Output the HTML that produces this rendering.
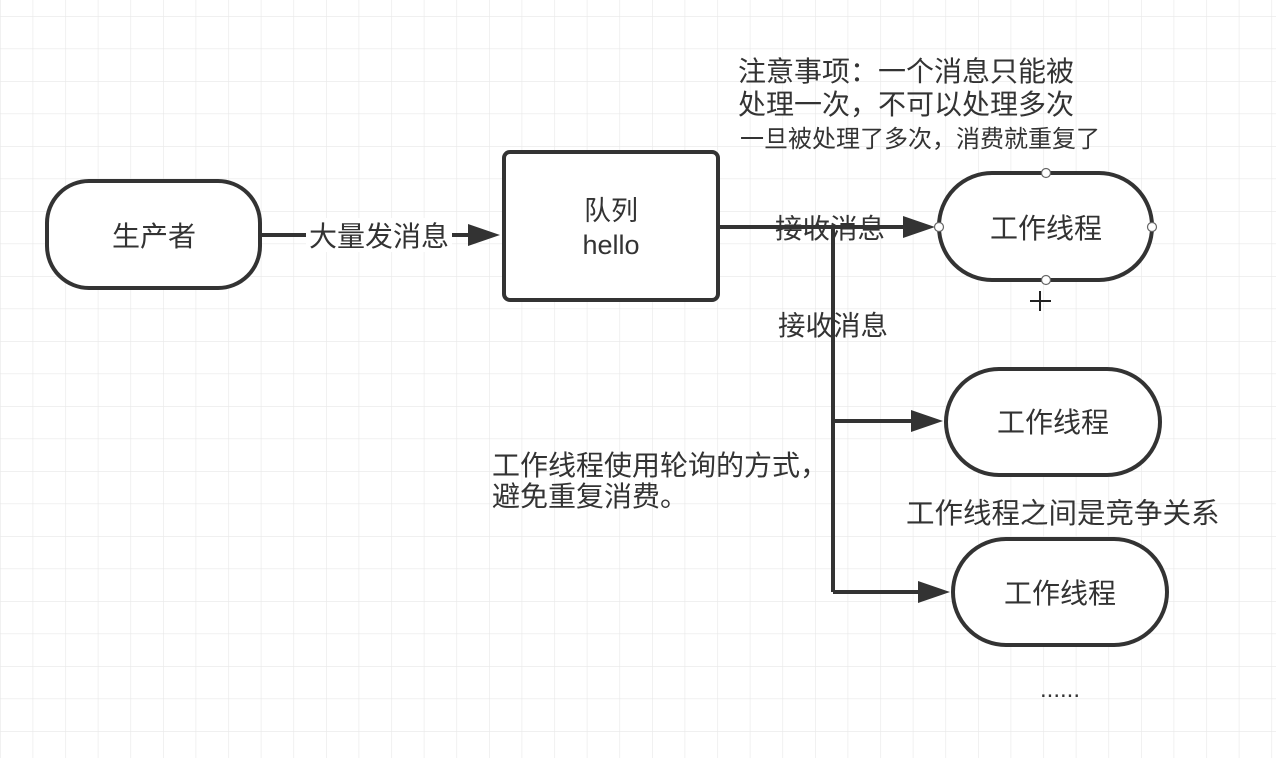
<!DOCTYPE html>
<html><head><meta charset="utf-8"><style>
body{margin:0;width:1276px;height:758px;overflow:hidden;background:#fff;}
svg text{font-family:"Liberation Sans","Noto Sans CJK SC",sans-serif;fill:#333;}
</style></head><body>
<svg width="1276" height="758" xmlns="http://www.w3.org/2000/svg">
<defs>
<pattern id="g" x="0" y="16" width="32.6" height="32.5" patternUnits="userSpaceOnUse">
<path d="M0 0H32.6M0 0V32.5" stroke="#e8e8e8" stroke-width="1.2" fill="none"/>
</pattern>
</defs>
<rect width="1276" height="758" fill="url(#g)"/>
<g stroke="#333" stroke-width="4" fill="#fff">
<rect x="47" y="181" width="213" height="107" rx="42"/>
<rect x="504" y="152" width="214" height="148" rx="6"/>
<rect x="939" y="173" width="213" height="107" rx="53"/>
<rect x="946" y="369" width="214" height="106" rx="53"/>
<rect x="953" y="539" width="214" height="106" rx="53"/>
</g>
<g stroke="#333" stroke-width="4" fill="none">
<path d="M260 235H475"/>
<path d="M718 227H833V592"/>
<path d="M833 227H910"/>
<path d="M833 421H918"/>
<path d="M833 592H925"/>
</g>
<g fill="#333">
<polygon points="500,235 468,224 468,246"/>
<polygon points="935,227 903,216 903,238"/>
<polygon points="943,421 911,410 911,432"/>
<polygon points="950,592 918,581 918,603"/>
</g>
<rect x="306" y="218" width="146" height="34" fill="#fff"/>
<text x="379" y="246" font-size="28" text-anchor="middle">大量发消息</text>
<text x="154" y="246" font-size="28" text-anchor="middle">生产者</text>
<text x="611" y="220" font-size="27" text-anchor="middle">队列</text>
<text x="611" y="254" font-size="27" text-anchor="middle">hello</text>
<text x="830" y="238" font-size="27.5" text-anchor="middle">接收消息</text>
<text x="833" y="335" font-size="27.5" text-anchor="middle">接收消息</text>
<text x="1046" y="238" font-size="28" text-anchor="middle">工作线程</text>
<text x="1053" y="432" font-size="28" text-anchor="middle">工作线程</text>
<text x="1060" y="603" font-size="28" text-anchor="middle">工作线程</text>
<text x="738" y="81" font-size="28">注意事项：一个消息只能被</text>
<text x="738" y="114" font-size="28">处理一次，不可以处理多次</text>
<text x="740" y="147" font-size="24" fill="#555">一旦被处理了多次，消费就重复了</text>
<text x="492" y="475" font-size="28">工作线程使用轮询的方式，</text>
<text x="492" y="506" font-size="28">避免重复消费。</text>
<text x="906" y="523" font-size="28.5">工作线程之间是竞争关系</text>
<text x="1040" y="697" font-size="24">......</text>
<g fill="#fff" stroke="#666" stroke-width="1.2">
<circle cx="1046" cy="173" r="4.5"/><circle cx="1046" cy="280" r="4.5"/>
<circle cx="939" cy="227" r="4.5"/><circle cx="1152" cy="227" r="4.5"/>
</g>
<path d="M1040 291V311M1030 301H1051" stroke="#222" stroke-width="2"/>
</svg>
</body></html>
